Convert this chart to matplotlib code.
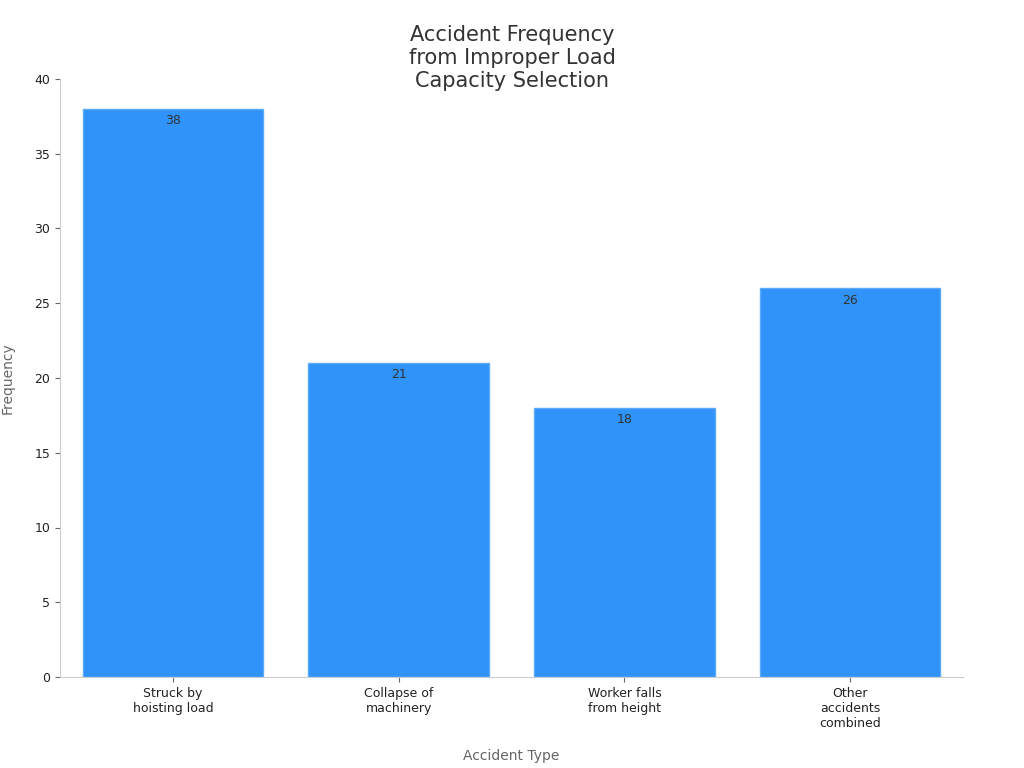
import matplotlib
matplotlib.use("Agg")
import matplotlib.pyplot as plt

categories = ["Struck by\nhoisting load", "Collapse of\nmachinery", "Worker falls\nfrom height", "Other\naccidents\ncombined"]
values = [38, 21, 18, 26]

fig = plt.figure(figsize=(10.24, 7.68), dpi=100)
ax = fig.add_axes([60/1024, 1-677/768, (963-60)/1024, (677-79)/768])
x = range(len(categories))
bars = ax.bar(x, values, width=0.8, color="#2F93F9", edgecolor="#5AAAF9", linewidth=1)
for xi, v in zip(x, values):
    ax.text(xi, v - 0.35, str(v), ha="center", va="top", fontsize=9, color="#333333")
ax.set_xlim(-0.5, 3.5)
ax.set_ylim(0, 40)
ax.set_xticks(list(x))
ax.set_xticklabels(categories, fontsize=9, color="#222222")
ax.tick_params(axis="y", labelsize=9, colors="#222222")
ax.tick_params(color="#666666")
for s in ["top", "right"]:
    ax.spines[s].set_visible(False)
for s in ["left", "bottom"]:
    ax.spines[s].set_color("#cccccc")
ax.set_xlabel("Accident Type", fontsize=10, color="#666666", labelpad=14)
ax.set_ylabel("Frequency", fontsize=10, color="#666666", labelpad=14)
fig.text(0.5, 1-58/768, "Accident Frequency\nfrom Improper Load\nCapacity Selection", ha="center", va="center", fontsize=15, color="#333333")
fig.savefig("out.png", dpi=100)
